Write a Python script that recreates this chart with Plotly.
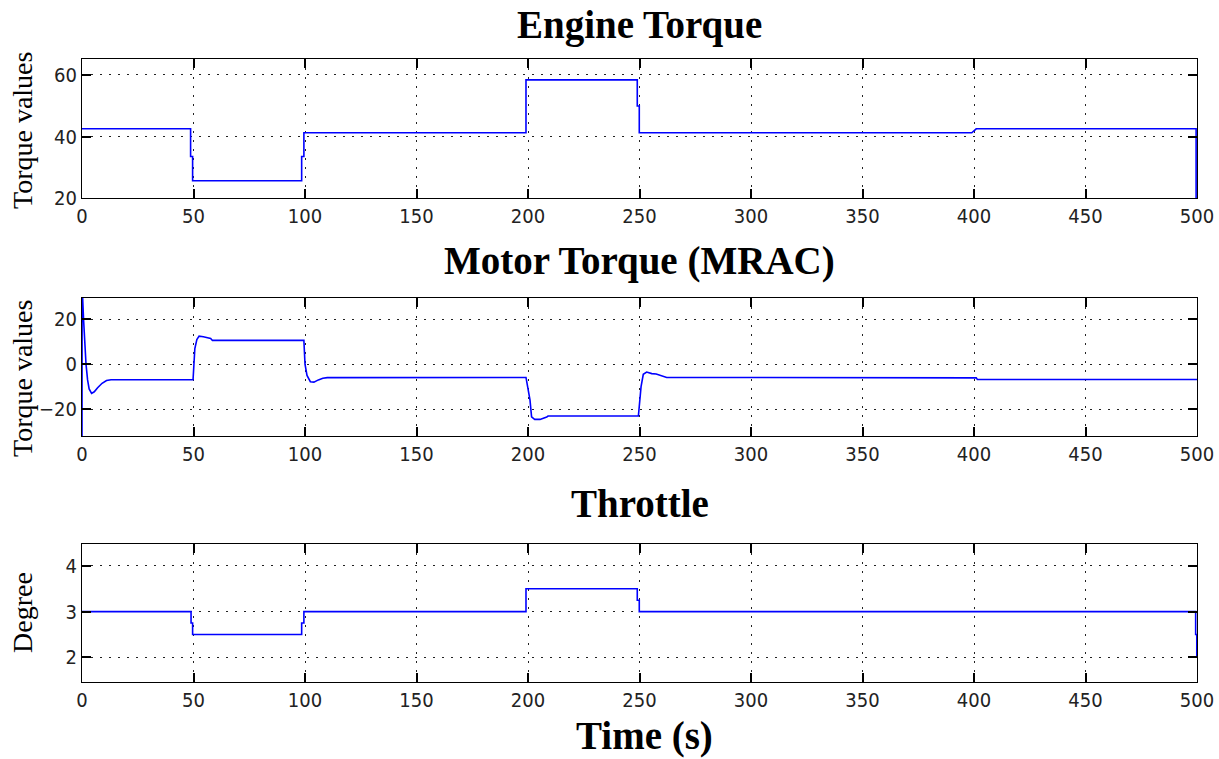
import plotly.graph_objects as go
from plotly.subplots import make_subplots

# ---------------- data ----------------
engine_t = [0, 48.7, 48.7, 49.6, 49.6, 98.5, 98.5, 99.5, 99.5, 199.1, 199.1,
            249.0, 249.0, 249.9, 249.9, 399.0, 401.0, 499.6, 499.6]
engine_v = [42.5, 42.5, 33.5, 33.5, 25.6, 25.6, 33.5, 33.5, 41.2, 41.2, 58.4,
            58.4, 49.9, 49.9, 41.2, 41.2, 42.5, 42.5, 20]

motor_t = [0, 0.05, 0.7, 1.3, 1.8, 2.5, 3.2, 4.3, 5.5, 7, 9, 11, 13, 49.8,
           50.3, 50.6, 51.5, 52.5, 54.4, 57.7, 58.5, 99.5, 100.0, 100.9, 102.4,
           104, 106, 108, 110, 199.1, 200.9, 201.6, 203, 205.4, 208.4, 209,
           249.5, 250.7, 251.7, 253.2, 255.5, 257.5, 262.2, 401.0, 401.5, 500]
motor_v = [-35, 35, 20, 8, 0, -7, -11, -13, -12.3, -10.5, -8.5, -7.3, -6.9, -6.9,
           0, 7, 11, 12.5, 12.2, 11.5, 10.6, 10.6, 0, -5, -7.8,
           -8, -7, -6.3, -6, -5.9, -16, -23.5, -24.6, -24.6, -23.5, -23.1,
           -23.1, -10, -4.5, -3.5, -4.2, -4.4, -5.9, -6.1, -6.8, -6.8]

throttle_t = [0, 48.9, 48.9, 49.6, 49.6, 98.5, 98.5, 99.5, 99.5, 199.1, 199.1,
              249.0, 249.0, 249.9, 249.9, 499.4, 499.4, 499.9, 499.9]
throttle_v = [3, 3, 2.75, 2.75, 2.5, 2.5, 2.75, 2.75, 3, 3, 3.5,
              3.5, 3.25, 3.25, 3, 3, 2.5, 2.5, 2.0]

x_ticks = [0, 50, 100, 150, 200, 250, 300, 350, 400, 450, 500]
engine_yticks = [20, 40, 60]
motor_yticks = [-20, 0, 20]
throttle_yticks = [2, 3, 4]

titles = ["Engine Torque", "Motor Torque (MRAC)", "Throttle"]
y_titles = ["Torque values", "Torque values", "Degree"]
x_title = "Time (s)"

# ---------------- layout geometry (page pixels) ----------------
W, H = 1219, 759


def fx(px):
    return px / W


def fy(py):
    return 1 - py / H


x0, x1 = 82, 1197
panels = [(59, 198), (298, 436), (544, 682)]
yranges = [[20, 65.2], [-32, 29.5], [1.46, 4.48]]
yticks = [engine_yticks, motor_yticks, throttle_yticks]
title_y = [25, 261.5, 503.5]
ytitle_y = [131, 379, 613]

fig = make_subplots(rows=3, cols=1)
series = [(engine_t, engine_v), (motor_t, motor_v), (throttle_t, throttle_v)]
for i, (t, v) in enumerate(series):
    fig.add_trace(go.Scatter(x=t, y=v, mode="lines",
                             line=dict(color="#0000ff", width=1.6),
                             showlegend=False, hoverinfo="skip"),
                  row=i + 1, col=1)

tickfont = dict(family="Liberation Sans Narrow, Arial Narrow, DejaVu Sans Condensed, sans-serif",
                size=20, color="#222222")
common = dict(showline=True, linecolor="black", linewidth=1.2, mirror="ticks",
              ticks="inside", ticklen=9, tickwidth=1.5, tickcolor="black",
              showgrid=True, gridcolor="#222222", gridwidth=1, griddash="1.5px,7.5px",
              zeroline=False, tickfont=tickfont, automargin=False)

for i, (top, bot) in enumerate(panels):
    n = "" if i == 0 else str(i + 1)
    fig.layout["xaxis" + n].update(domain=[fx(x0), fx(x1)], range=[0, 500],
                                   tickvals=x_ticks, **common)
    fig.layout["yaxis" + n].update(domain=[fy(bot), fy(top)],
                                   range=yranges[i], tickvals=yticks[i], **common)

annotations = []
serif = "Liberation Serif, Times New Roman, serif"
for i in range(3):
    annotations.append(dict(text="<b>%s</b>" % titles[i], x=fx((x0 + x1) / 2),
                            y=fy(title_y[i]), xref="paper", yref="paper",
                            xanchor="center", yanchor="middle", showarrow=False,
                            font=dict(family=serif, size=39, color="black")))
    annotations.append(dict(text=y_titles[i], x=fx(22), y=fy(ytitle_y[i]),
                            xref="paper", yref="paper", xanchor="center",
                            yanchor="middle", textangle=-90, showarrow=False,
                            font=dict(family=serif, size=28, color="black")))
annotations.append(dict(text="<b>%s</b>" % x_title, x=fx(644), y=fy(736),
                        xref="paper", yref="paper", xanchor="center",
                        yanchor="middle", showarrow=False,
                        font=dict(family=serif, size=39, color="black")))

fig.update_layout(width=W, height=H, margin=dict(l=0, r=0, t=0, b=0, pad=0,
                                                 autoexpand=False),
                  paper_bgcolor="white", plot_bgcolor="white",
                  annotations=annotations)

fig.write_html("out.html", config={"displayModeBar": False},
               post_script="document.body.style.margin='0';document.body.style.overflow='hidden';")
